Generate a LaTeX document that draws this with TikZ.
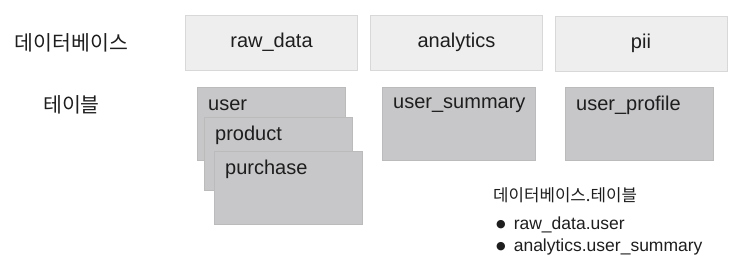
\documentclass[tikz,border=0pt]{standalone}
\usepackage{fontspec}
\setmainfont{Liberation Sans}
\newfontfamily\kr{Noto Sans CJK KR}
\newfontfamily\sym{DejaVu Sans}
\usetikzlibrary{positioning,calc}
\definecolor{dbFill}{HTML}{EEEEEE}
\definecolor{dbLine}{HTML}{D8D8D8}
\definecolor{tbFill}{HTML}{C7C6C8}
\definecolor{tbLine}{HTML}{BBBBBB}
\definecolor{ink}{HTML}{1E1E1E}
\tikzset{
  db/.style={draw=dbLine, fill=dbFill, line width=0.8pt, minimum width=172pt,
             minimum height=55pt, inner sep=0pt, font=\fontsize{20}{24}\selectfont,
             text=ink},
  tbl/.style={draw=tbLine, fill=tbFill, line width=0.8pt, minimum width=148pt,
              minimum height=73pt, inner sep=0pt},
  tname/.style={anchor=west, inner sep=0pt, font=\fontsize{20}{24}\selectfont,
                text=ink},
  rowlbl/.style={inner sep=0pt, font=\kr\fontsize{20.5}{24}\selectfont, text=ink},
  note/.style={anchor=west, inner sep=0pt, font=\fontsize{17.5}{21}\selectfont,
               text=ink},
}
\newcommand{\tlabel}[2]{\node[tname] (#1lbl) at ([xshift=11pt,yshift=-18pt]#1.north west) {#2};}
\newcommand{\bigdot}{\raisebox{2.5pt}{\sym\fontsize{11}{13}\selectfont ●}}

\begin{document}
\begin{tikzpicture}[x=1pt, y=-1pt]
\useasboundingbox (0,0) rectangle (748,262);

%% -- row labels ------------------------------------------------------------
\node[rowlbl] (dblabel) at (71.5,43) {데이터베이스};
\node[rowlbl] (tblabel) at (71.5,105) {테이블};

%% -- databases -------------------------------------------------------------
\node[db] (raw) at (271.5,42.5) {raw\_data};
\node[db] (ana) at (456.5,42.5) {analytics};
\node[db] (pii) at (641,43.5) {pii};

%% -- tables (stacked under raw_data) ---------------------------------------
\node[tbl, anchor=north west] (user) at (197,87) {};
\tlabel{user}{user}
\node[tbl, anchor=north west] (product) at (204,117) {};
\tlabel{product}{product}
\node[tbl, anchor=north west] (purchase) at (214,151) {};
\tlabel{purchase}{purchase}

\node[tbl, anchor=north west, minimum width=153pt] (summary) at (382,87) {};
\tlabel{summary}{user\_summary}
\node[tbl, anchor=north west] (profile) at (565,87) {};
\tlabel{profile}{user\_profile}

%% -- naming rule -----------------------------------------------------------
\node[note, font=\kr\fontsize{16.8}{20}\selectfont] (rule) at (493,195)
  {데이터베이스.테이블};
\node[note] (ex1) at (496,225) {\bigdot\hspace{8pt}raw\_data.user};
\node[note] (ex2) at (496,247) {\bigdot\hspace{8pt}analytics.user\_summary};

\end{tikzpicture}
\end{document}
